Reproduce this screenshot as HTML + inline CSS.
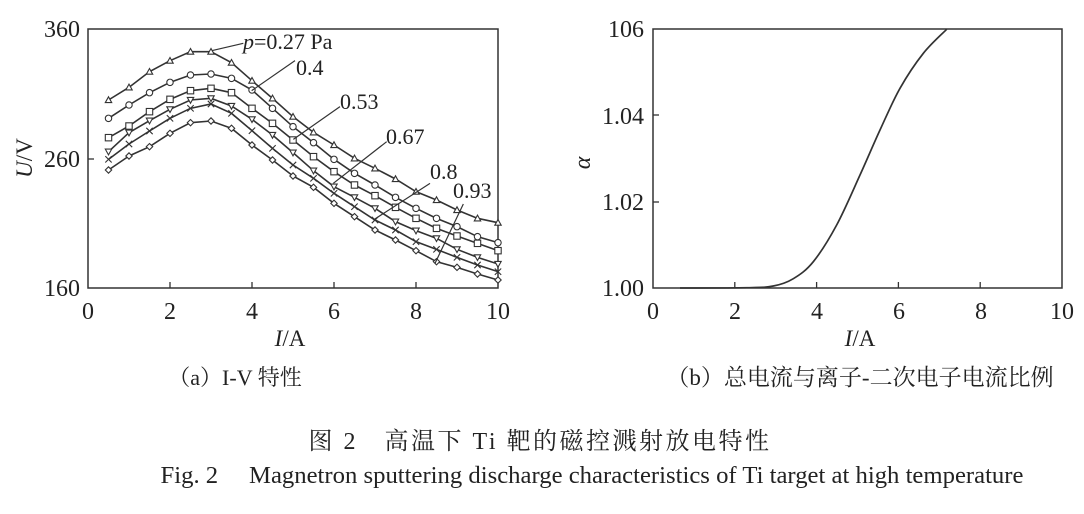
<!DOCTYPE html>
<html><head><meta charset="utf-8"><style>
body{margin:0;background:#fff;}
svg text{font-family:"Liberation Serif","Noto Serif CJK SC",serif;fill:#222;}
</style></head><body>
<svg id="s" width="1084" height="509" xmlns="http://www.w3.org/2000/svg">
<g stroke="#333" stroke-width="1.5" fill="none">
<rect x="88" y="29" width="410" height="259"/>
<rect x="653" y="29" width="409" height="259"/>
</g>
<g font-size="24" text-anchor="middle">
<text x="88" y="319">0</text><text x="170" y="319">2</text><text x="252" y="319">4</text><text x="334" y="319">6</text><text x="416" y="319">8</text><text x="498" y="319">10</text>
<text x="653" y="319">0</text><text x="735" y="319">2</text><text x="817" y="319">4</text><text x="899" y="319">6</text><text x="981" y="319">8</text><text x="1062" y="319">10</text>
</g>
<g font-size="24" text-anchor="end">
<text x="80" y="37">360</text><text x="80" y="167">260</text><text x="80" y="296">160</text>
<text x="644" y="37">106</text><text x="644" y="124">1.04</text><text x="644" y="210">1.02</text><text x="644" y="296">1.00</text>
</g>
<text x="290" y="346" font-size="23" text-anchor="middle"><tspan font-style="italic">I</tspan>/A</text>
<text x="860" y="346" font-size="23" text-anchor="middle"><tspan font-style="italic">I</tspan>/A</text>
<text transform="translate(32,158) rotate(-90)" font-size="23" text-anchor="middle"><tspan font-style="italic">U</tspan>/V</text>
<text transform="translate(590,163) rotate(-90)" font-size="24" font-style="italic" text-anchor="middle">α</text>
<text x="235" y="385" font-size="22" text-anchor="middle">（a）I-V 特性</text>
<text x="860" y="385" font-size="23" text-anchor="middle">（b）总电流与离子-二次电子电流比例</text>
<text x="540" y="449" font-size="24" text-anchor="middle" letter-spacing="2.5">图 2　高温下 Ti 靶的磁控溅射放电特性</text>
<text x="592" y="483" font-size="24.7" text-anchor="middle">Fig. 2　 Magnetron sputtering discharge characteristics of Ti target at high temperature</text>
<g font-size="22">
<text x="243" y="49"><tspan font-style="italic">p</tspan>=0.27 Pa</text>
<text x="296" y="75">0.4</text>
<text x="340" y="109">0.53</text>
<text x="386" y="144">0.67</text>
<text x="430" y="179">0.8</text>
<text x="453" y="198">0.93</text>
</g>
<g id="d"></g>
</svg>
<script>
const ns="http://www.w3.org/2000/svg",g=document.getElementById('d');
function el(t,a){const e=document.createElementNS(ns,t);for(const k in a)e.setAttribute(k,a[k]);g.appendChild(e);return e;}
const S=[
[300,262,215,182,155,155,188,242,295,350,397,435,475,505,537,575,600,630,655,668],
[355,315,278,247,225,222,235,270,325,380,428,478,520,555,592,625,655,680,710,728],
[413,378,335,298,272,265,278,325,370,420,470,515,555,587,622,655,685,708,730,752],
[455,398,362,328,300,295,318,358,405,458,512,560,592,625,665,692,715,748,772,792],
[478,432,393,355,325,312,340,392,445,495,535,580,620,660,690,725,748,772,795,815],
[510,468,440,400,368,363,385,435,480,528,562,610,650,690,720,752,785,802,822,840]];
const M=['tri','circ','sq','tdn','x','dia'];
S.forEach((ys,si)=>{
 const pts=ys.map((y,i)=>[(264+(i+1)*0.5*123)/3,y/3]);
 el('polyline',{points:pts.map(p=>p.join(',')).join(' '),fill:'none',stroke:'#333','stroke-width':1.6});
 pts.forEach(([x,y])=>{const m=M[si],r=3.2,st={fill:'#fff',stroke:'#333','stroke-width':1.1};
  if(m=='tri')el('polygon',Object.assign({points:`${x},${y-r} ${x-r},${y+r*0.8} ${x+r},${y+r*0.8}`},st));
  if(m=='tdn')el('polygon',Object.assign({points:`${x},${y+r} ${x-r},${y-r*0.8} ${x+r},${y-r*0.8}`},st));
  if(m=='circ')el('circle',Object.assign({cx:x,cy:y,r:r},st));
  if(m=='sq')el('rect',Object.assign({x:x-r,y:y-r,width:2*r,height:2*r},st));
  if(m=='dia')el('polygon',Object.assign({points:`${x},${y-r} ${x+r},${y} ${x},${y+r} ${x-r},${y}`},st));
  if(m=='x')el('path',{d:`M${x-r} ${y-r}L${x+r} ${y+r}M${x-r} ${y+r}L${x+r} ${y-r}`,stroke:'#333','stroke-width':1.1});
 });
});
[[635,152,730,130],[755,272,885,182],[880,418,1020,320],[1000,550,1160,425],[1120,660,1290,550],[1305,790,1390,612]].forEach(l=>{
 el('line',{x1:l[0]/3,y1:l[1]/3,x2:l[2]/3,y2:l[3]/3,stroke:'#333','stroke-width':1.2});});
const c=[[360,864],[560,863],[640,858],[700,836],[760,785],[830,675],[900,525],[960,390],[1020,265],[1090,160],[1160,88]].map(p=>[560+p[0]/3,p[1]/3]);
let d='M'+c[0].join(' ');
for(let i=0;i<c.length-1;i++){const p0=c[Math.max(0,i-1)],p1=c[i],p2=c[i+1],p3=c[Math.min(c.length-1,i+2)];
 d+=` C${p1[0]+(p2[0]-p0[0])/6} ${p1[1]+(p2[1]-p0[1])/6} ${p2[0]-(p3[0]-p1[0])/6} ${p2[1]-(p3[1]-p1[1])/6} ${p2[0]} ${p2[1]}`;}
el('path',{d:d,fill:'none',stroke:'#333','stroke-width':1.7});
const T=(x1,y1,x2,y2)=>el('line',{x1,y1,x2,y2,stroke:'#333','stroke-width':1.3});
for(let i=1;i<5;i++){T(88+i*82,288,88+i*82,282);T(653+i*81.8,288,653+i*81.8,282);}
T(88,159,94,159);T(653,115,659,115);T(653,202,659,202);
</script>
</body></html>
